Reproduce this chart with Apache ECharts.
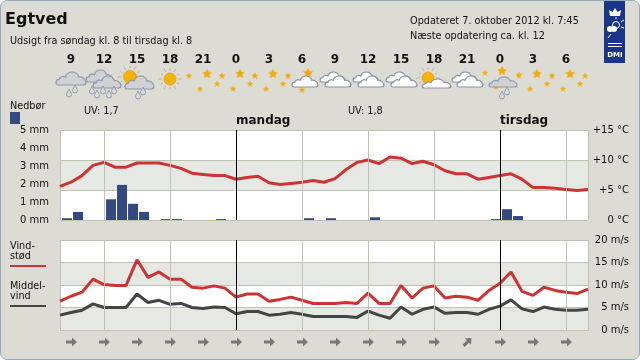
<!DOCTYPE html>
<html><head><meta charset="utf-8">
<style>
html,body{margin:0;padding:0;background:#fff;width:640px;height:360px;overflow:hidden}
#frame{position:absolute;left:0;top:0;width:640px;height:360px;box-sizing:border-box;background:#dcdcd4;border:1.5px solid #94aabf;border-radius:7px}
#chart{position:absolute;left:0;top:0;width:640px;height:360px}
</style>
<script src="https://cdn.jsdelivr.net/npm/echarts@6/dist/echarts.min.js"></script>
</head><body><div id="frame"></div><div id="chart"></div>
<script>
const hourLabels = ['9','12','15','18','21','0','3','6','9','12','15','18','21','0','3','6'];
const skyIcons = ['rain','heavy','sunrain','sun','stars','stars','stars','cloudstars','clouds','clouds','clouds','suncloud','clouds','rainstars','stars','stars'];
const windDirs = [0,0,0,0,0,0,0,0,0,0,0,0,45,0,0,0];
const temperature = [5.6,6.3,7.4,9.1,9.6,8.8,8.8,9.5,9.5,9.5,9.1,8.6,7.8,7.6,7.4,7.4,6.8,7.1,7.3,6.2,5.9,6.1,6.3,6.6,6.3,6.9,8.4,9.6,10.0,9.4,10.5,10.3,9.4,9.8,9.2,8.2,7.7,7.7,6.8,7.1,7.4,7.7,6.8,5.4,5.4,5.3,5.1,4.9,5.1];
const precipitation = [0.1,0.45,0,0,1.15,1.95,0.9,0.45,0,0.05,0.05,0,0,0,0.05,0,0,0,0,0,0,0,0.1,0,0.1,0,0,0,0.15,0,0,0,0,0,0,0,0,0,0,0.05,0.6,0.22,0,0,0,0,0,0];
const gust = [6.4,7.5,8.4,11.3,10.1,9.9,9.9,15.6,11.7,12.9,11.3,11.3,9.5,9.3,9.8,9.3,7.3,8.0,8.0,6.4,6.8,7.3,6.6,5.9,5.9,5.9,6.1,5.9,8.2,5.9,5.9,9.9,7.1,9.3,9.8,7.1,7.5,7.3,6.6,8.8,10.4,12.9,8.6,7.7,9.5,8.8,8.4,8.1,9.1];
const meanWind = [3.3,3.9,4.4,5.8,5.0,5.0,5.0,8.0,6.1,6.6,5.7,5.9,5.0,4.8,5.1,5.0,3.6,4.1,4.1,3.3,3.5,3.9,3.5,3.0,3.0,3.0,3.0,2.8,4.2,3.3,2.6,5.1,3.5,4.6,5.1,3.7,3.9,3.9,3.5,4.6,5.3,6.7,4.7,4.1,5.1,4.6,4.4,4.4,4.6];
const gridHours = [4,10,22,28,34,46];
const dayHours = [16,40];
const dayNames = ['mandag','tirsdag'];
const FONT = '"DejaVu Sans"';
const BAND = '#e6e8e3', GRID = '#c2c2b4', TXT = '#111';

const CLOUD = 'M3 13C0 13 0 8 4 8C5 5 8 5 10 6C12 0 21 0 23 6C27 5 30 9 30 11C30 12 29 13 27 13Z';
const DROP = 'M2.5 0C3 2 5 4 5 5.5A2.5 2.5 0 0 1 0 5.5C0 4 2 2 2.5 0Z';
function cloud(x,y,w,h,kind){
  return {type:'path',shape:{pathData:CLOUD,x:x,y:y,width:w,height:h,layout:'cover'},
    style:{fill:kind==='white'?'#fff':'#cfd1d3',stroke:kind==='white'?'#8791a8':'#8f98ab',lineWidth:1.2}};
}
function drop(x,y){
  return {type:'path',shape:{pathData:DROP,x:x-2.5,y:y-4,width:5,height:8,layout:'cover'},
    style:{fill:'#dcdcd4',stroke:'#8f9ab0',lineWidth:1}};
}
function star(x,y,r){
  const pts=[];
  for(let k=0;k<10;k++){const a=-Math.PI/2+k*Math.PI/5,q=k%2?r*0.5:r;pts.push([x+q*Math.cos(a),y+q*Math.sin(a)]);}
  return {type:'polygon',shape:{points:pts},style:{fill:'#eeaa10',stroke:'#f0c050',lineWidth:0.5}};
}
function sun(x,y,r,rays){
  const out=[];
  if(rays){for(let k=0;k<12;k++){const a=k*Math.PI/6;
    out.push({type:'line',shape:{x1:x+(r+2)*Math.cos(a),y1:y+(r+2)*Math.sin(a),x2:x+(r+(k%2?4.5:6))*Math.cos(a),y2:y+(r+(k%2?4.5:6))*Math.sin(a)},style:{stroke:'#b4b4a2',lineWidth:1}});}}
  out.push({type:'circle',shape:{cx:x,cy:y,r:r},style:{fill:'#f6b400',stroke:'#e09a10',lineWidth:0.7}});
  return out;
}
function stars(x,y){
  return [star(x+4,y-5,5),star(x-14,y-3,3),star(x+19,y-3,3),star(x+14,y+5,3),star(x-3,y+10,3)];
}
function iconShapes(kind,x,y){
  switch(kind){
    case 'rain': return [cloud(x-15,y-7,30,13),drop(x-2,y+14),drop(x+4,y+10)];
    case 'heavy': return [cloud(x-18,y-9,27,12),cloud(x-11,y-3,28,12),drop(x-12,y+11),drop(x-7,y+15),drop(x-1,y+11),drop(x+5,y+15),drop(x+10,y+11)];
    case 'sunrain': return [...sun(x-7,y-2,6.5,true),cloud(x-12,y-3,29,13),drop(x+1,y+16),drop(x+6,y+12)];
    case 'sun': return sun(x,y,6,true);
    case 'stars': return stars(x,y);
    case 'cloudstars': return [star(x+6,y-6,5),star(x-14,y-3,3),star(x,y+11,3),cloud(x-10,y-3,26,11,'white')];
    case 'clouds': return [cloud(x-15,y-7,25,10,'white'),cloud(x-10,y-3,26,11,'white')];
    case 'suncloud': return [...sun(x-6,y-1,6,true),cloud(x-12,y,29,9,'white')];
    case 'rainstars': return [star(x+2,y-8,5),star(x-15,y-6,3),star(x+19,y-4,3),star(x-4,y+8,3),cloud(x-11,y-2,28,10),drop(x+2,y+16),drop(x+7,y+12)];
  }
  return [];
}
function txt(x,y,s,size,weight,align){
  return {type:'text',x:x,y:y,silent:true,style:{text:s,fill:TXT,font:(weight||'normal')+' '+(size||9.7)+'px '+FONT,textAlign:align||'left',textVerticalAlign:'middle'}};
}
function rule(x,y,w,c){return {type:'rect',shape:{x:x,y:y,width:w,height:2},style:{fill:c},silent:true};}
const vLines = (hours,color,width)=>hours.map(h=>({xAxis:h,lineStyle:{color:color,width:width,type:'solid'}}));
const allLines = ()=>[...vLines(gridHours,GRID,1),...vLines(dayHours,'#000',1)];
const mark = ()=>({silent:true,symbol:'none',label:{show:false},animation:false,precision:0,data:allLines()});

const baseX = {type:'value',min:0,max:48,interval:48,axisLine:{show:false},axisTick:{show:false},splitLine:{show:true,lineStyle:{color:GRID,width:1}}};
const labelStyle = {color:TXT,fontFamily:FONT,fontSize:10};
const ARROW = 'path://M0 3.2H6V0.5L11 4.5L6 8.5V5.8H0Z';
const white = '#fff';
const logoLine = (x1,y1,x2,y2)=>({type:'line',shape:{x1,y1,x2,y2},style:{stroke:white,lineWidth:1},silent:true});

const option = {
  animation:false,
  backgroundColor:'transparent',
  grid:[
    {left:60,top:130,width:528,height:90},
    {left:60,top:240,width:528,height:90},
    {left:54.5,top:68,width:528,height:22},
    {left:55,top:332,width:528,height:20}
  ],
  xAxis:[
    {...baseX,gridIndex:0,position:'top',axisLabel:{show:true,customValues:dayHours,formatter:v=>dayNames[dayHours.indexOf(v)],align:'left',margin:3,color:TXT,fontFamily:FONT,fontSize:12,fontWeight:'bold'}},
    {...baseX,gridIndex:1,axisLabel:{show:false}},
    {type:'category',gridIndex:2,position:'top',data:hourLabels,axisLine:{show:false},axisTick:{show:false},splitLine:{show:false},axisLabel:{interval:0,margin:2,color:TXT,fontFamily:FONT,fontSize:12,fontWeight:'bold'}},
    {type:'category',gridIndex:3,data:hourLabels,axisLine:{show:false},axisTick:{show:false},splitLine:{show:false},axisLabel:{show:false}}
  ],
  yAxis:[
    {type:'value',gridIndex:0,position:'left',min:0,max:5,interval:1,axisLine:{show:false},axisTick:{show:false},splitLine:{show:false},axisLabel:{...labelStyle,margin:11,formatter:v=>v+' mm'}},
    {type:'value',gridIndex:0,position:'right',min:0,max:15,interval:5,axisLine:{show:false},axisTick:{show:false},splitLine:{show:true,lineStyle:{color:GRID}},splitArea:{show:true,areaStyle:{color:['#fff',BAND]}},axisLabel:{...labelStyle,align:'right',margin:41,formatter:v=>v===0?'0 °C':'+'+v+' °C'}},
    {type:'value',gridIndex:1,position:'right',min:0,max:20,interval:5,axisLine:{show:false},axisTick:{show:false},splitLine:{show:true,lineStyle:{color:GRID}},splitArea:{show:true,areaStyle:{color:[BAND,'#fff']}},axisLabel:{...labelStyle,align:'right',margin:41,formatter:v=>v+' m/s'}},
    {type:'value',gridIndex:2,min:0,max:1,show:false},
    {type:'value',gridIndex:3,min:0,max:1,show:false}
  ],
  series:[
    {type:'line',name:'grid1',xAxisIndex:0,yAxisIndex:1,z:1,data:[],markLine:mark()},
    {type:'line',name:'grid2',xAxisIndex:1,yAxisIndex:2,z:1,data:[],markLine:mark()},
    {type:'bar',name:'Nedbør',xAxisIndex:0,yAxisIndex:0,z:2,barWidth:10,itemStyle:{color:'#33497f'},data:precipitation.map((v,i)=>[i+0.64,v])},
    {type:'line',name:'Temperatur',xAxisIndex:0,yAxisIndex:1,z:3,showSymbol:false,lineStyle:{color:'#cc3333',width:3},data:temperature.map((v,i)=>[i,v])},
    {type:'line',name:'Vindstød',xAxisIndex:1,yAxisIndex:2,z:3,showSymbol:false,lineStyle:{color:'#cc3333',width:3},data:gust.map((v,i)=>[i,v])},
    {type:'line',name:'Middelvind',xAxisIndex:1,yAxisIndex:2,z:3,showSymbol:false,lineStyle:{color:'#444444',width:3},data:meanWind.map((v,i)=>[i,v])},
    {type:'custom',name:'Himmel',xAxisIndex:2,yAxisIndex:3,silent:true,z:4,
      data:skyIcons.map((k,i)=>[i,0.5]),
      encode:{x:0,y:1},
      renderItem:(p,api)=>{
        const c=api.coord([api.value(0),api.value(1)]);
        return {type:'group',children:iconShapes(skyIcons[p.dataIndex],c[0],c[1])};
      }},
    {type:'scatter',name:'Vindretning',xAxisIndex:3,yAxisIndex:4,z:4,silent:true,
      symbol:ARROW,symbolSize:[11,9],itemStyle:{color:'#5f5f5a'},
      data:windDirs.map((d,i)=>({value:[i,0.5],symbolRotate:d}))}
  ],
  graphic:[
    txt(5,20,'Egtved',16,'bold'),
    txt(10,41,'Udsigt fra søndag kl. 8 til tirsdag kl. 8'),
    txt(410,21,'Opdateret 7. oktober 2012 kl. 7:45'),
    txt(410,36,'Næste opdatering ca. kl. 12'),
    txt(84,111,'UV: 1,7'),
    txt(348,111,'UV: 1,8'),
    txt(10,106,'Nedbør'),
    {type:'rect',shape:{x:10,y:112,width:10,height:12},style:{fill:'#33497f'},silent:true},
    txt(10,246,'Vind-'),
    txt(10,256,'stød'),
    rule(10,265,36,'#cc3333'),
    txt(10,286,'Middel-'),
    txt(10,296,'vind'),
    rule(10,305,36,'#444444'),
    {type:'rect',shape:{x:604,y:1,width:21,height:62},style:{fill:'#1b3688'},silent:true},
    {type:'polygon',shape:{points:[[610,16],[609,10],[612.5,12],[615,8],[617.5,12],[621,10],[620,16]]},style:{fill:white},silent:true},
    {type:'circle',shape:{cx:616,cy:25,r:3.5},style:{fill:'none',stroke:white,lineWidth:1},silent:true},
    {type:'circle',shape:{cx:610,cy:29,r:3},style:{fill:white},silent:true},
    {type:'circle',shape:{cx:614,cy:29,r:3},style:{fill:white},silent:true},
    logoLine(621,22,624,20),logoLine(616,19,616,17),logoLine(621,27,624,28),logoLine(611,34,608,38),
    {type:'rect',shape:{x:608,y:43,width:14,height:1},style:{fill:white},silent:true},
    {type:'rect',shape:{x:608,y:46,width:14,height:1},style:{fill:white},silent:true},
    {type:'text',x:615,y:55,silent:true,style:{text:'DMI',fill:white,font:'bold 7px '+FONT,textAlign:'center',textVerticalAlign:'middle'}}
  ]
};
echarts.init(document.getElementById('chart'),null,{renderer:'canvas'}).setOption(option);
</script></body></html>
